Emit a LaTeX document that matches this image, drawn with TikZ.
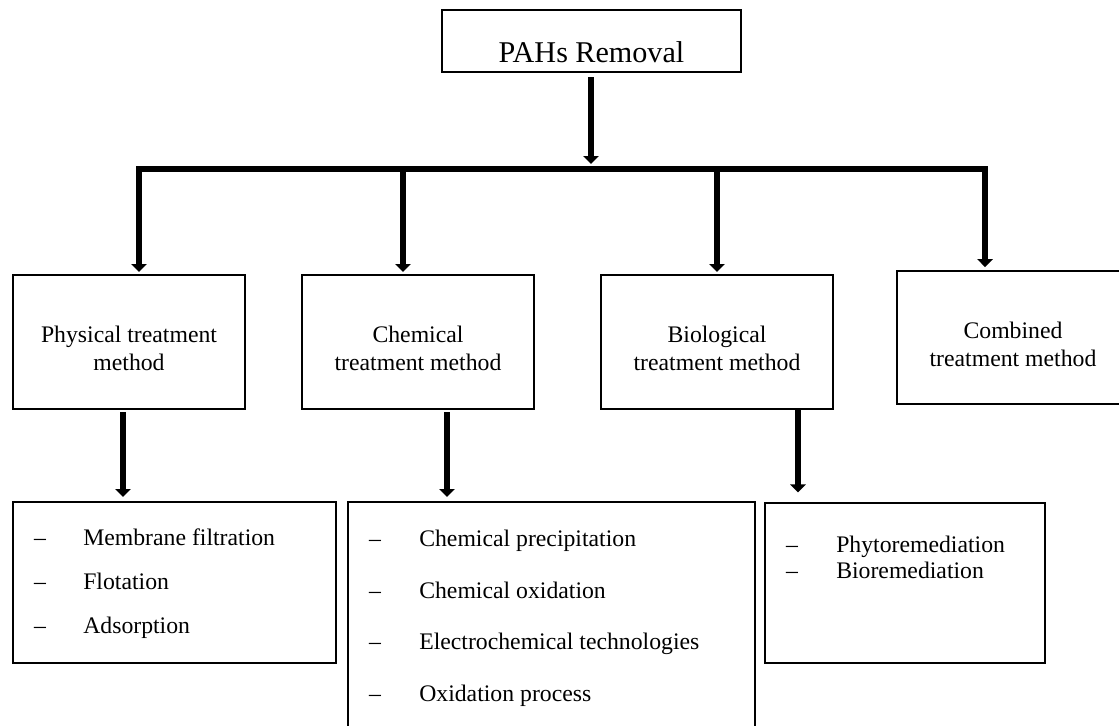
\documentclass[tikz,border=0pt]{standalone}
\usepackage{fontspec}
\setmainfont{Liberation Serif}
\usetikzlibrary{arrows.meta,fit}
\begin{document}
\begin{tikzpicture}[x=0.75pt,y=-0.75pt,
  box/.style={draw=black, line width=1.9pt, inner sep=0pt},
  lbl/.style={font=\fontsize{17.8}{20}\selectfont, inner sep=0pt, anchor=base},
  item/.style={font=\fontsize{17.8}{20}\selectfont, inner sep=0pt, anchor=base west},
  dashmark/.style={font=\fontsize{17.8}{20}\selectfont, inner sep=0pt, anchor=base},
  arr/.style={line width=4.6pt, -{Triangle[width=11.5pt,length=6pt]}},
  barline/.style={line width=5.2pt, line cap=rect}]
\useasboundingbox (0,0) rectangle (1119,725);
\begin{scope}
\clip (0,0) rectangle (1119,725);
% boxes
\node[box, fit={(442,10) (741,72)}] (top) {};
\node[lbl, font=\fontsize{22.6}{26}\selectfont] (toptxt) at (591.5,62) {PAHs Removal};

\node[box, fit={(13,275) (245,409)}] (phys) {};
\node[box, fit={(302,275) (534,409)}] (chem) {};
\node[box, fit={(601,275) (833,409)}] (bio) {};
\node[box, fit={(897,271) (1129,404)}] (comb) {};

\node[lbl] (phys1) at (129,342) {Physical treatment};
\node[lbl] (phys2) at (129,370) {method};
\node[lbl] (chem1) at (418,342) {Chemical};
\node[lbl] (chem2) at (418,370) {treatment method};
\node[lbl] (bio1) at (717,342) {Biological};
\node[lbl] (bio2) at (717,370) {treatment method};
\node[lbl] (comb1) at (1013,338) {Combined};
\node[lbl] (comb2) at (1013,366) {treatment method};

\node[box, fit={(13,502) (336,663)}] (physlist) {};
\node[box, fit={(348,502) (755,745)}] (chemlist) {};
\node[box, fit={(765,503) (1045,663)}] (biolist) {};

% physical list
\node[dashmark] (pd1) at (40,545) {–};
\node[item] (pi1) at (83,545) {Membrane filtration};
\node[dashmark] (pd2) at (40,589) {–};
\node[item] (pi2) at (83,589) {Flotation};
\node[dashmark] (pd3) at (40,633) {–};
\node[item] (pi3) at (83,633) {Adsorption};

% chemical list
\node[dashmark] (cd1) at (375,546) {–};
\node[item] (ci1) at (419,546) {Chemical precipitation};
\node[dashmark] (cd2) at (375,598) {–};
\node[item] (ci2) at (419,598) {Chemical oxidation};
\node[dashmark] (cd3) at (375,649) {–};
\node[item] (ci3) at (419,649) {Electrochemical technologies};
\node[dashmark] (cd4) at (375,701) {–};
\node[item] (ci4) at (419,701) {Oxidation process};

% biological list
\node[dashmark] (bd1) at (792,552) {–};
\node[item] (bi1) at (836,552) {Phytoremediation};
\node[dashmark] (bd2) at (792,578) {–};
\node[item] (bi2) at (836,578) {Bioremediation};

% connectors
\coordinate (b0) at (591,169);
\coordinate (b0t) at (591,164);
\coordinate (b1) at (139,169);
\coordinate (b2) at (403,169);
\coordinate (b3) at (717,169);
\coordinate (b4) at (985,169);
\coordinate (pa) at (123,0);
\coordinate (ca) at (447,0);
\coordinate (ba) at (798,0);

\draw[barline] (b1) -- (b4);
\draw[arr, shorten <=2.8pt] (top.south -| b0) -- (b0t);
\draw[arr, shorten >=1.3pt] (b1) -- (phys.north -| b1);
\draw[arr, shorten >=1.3pt] (b2) -- (chem.north -| b2);
\draw[arr, shorten >=1.3pt] (b3) -- (bio.north -| b3);
\draw[arr, shorten >=2pt] (b4) -- (comb.north -| b4);

\draw[arr, shorten <=1.3pt, shorten >=2.8pt] (phys.south -| pa) -- (physlist.north -| pa);
\draw[arr, shorten <=1.3pt, shorten >=2.8pt] (chem.south -| ca) -- (chemlist.north -| ca);
\draw[arr, shorten >=7pt] (bio.south -| ba) -- (biolist.north -| ba);
\end{scope}
\end{tikzpicture}
\end{document}
